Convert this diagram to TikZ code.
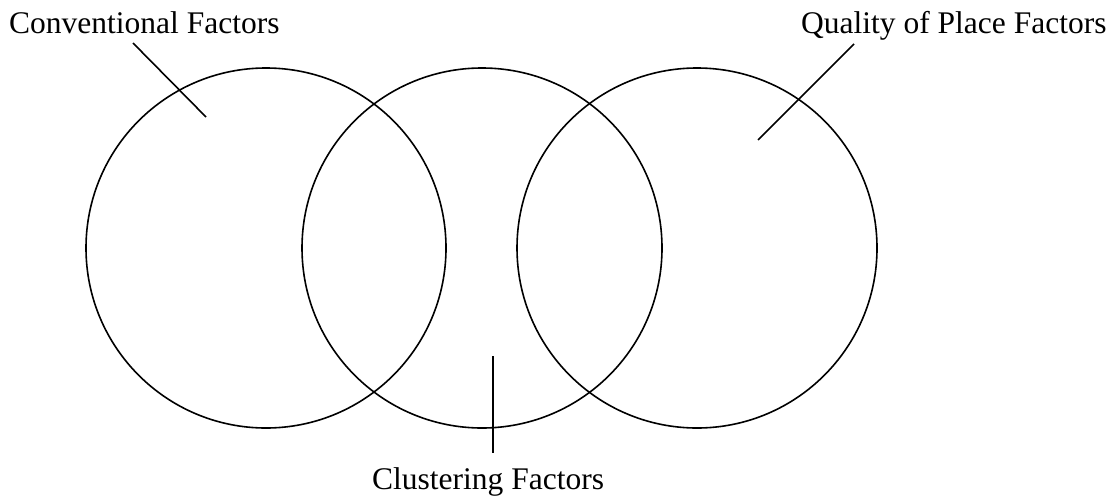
\documentclass[tikz,border=0pt]{standalone}
\usepackage{fontspec}
\setmainfont{Liberation Serif}
\begin{document}
\begin{tikzpicture}[x=1pt,y=-1pt,
  ring/.style={draw,circle,line width=1.6pt,minimum size=360pt,inner sep=0pt},
  lbl/.style={font=\fontsize{31.5}{36}\selectfont,inner sep=0pt,anchor=base west},
  pointer/.style={line width=1.6pt}]
\useasboundingbox (0,0) rectangle (1118,498);
\node[ring] (left) at (266,248) {};
\node[ring] (mid) at (482,248) {};
\node[ring] (right) at (697,248) {};
\node[lbl] (conv) at (9,33) {Conventional Factors};
\node[lbl] (qual) at (801,33) {Quality of Place Factors};
\node[lbl] (clus) at (372,489) {Clustering Factors};
\coordinate (c1) at (133,43);
\coordinate (c2) at (206,117);
\coordinate (q1) at (854,44);
\coordinate (q2) at (758,140);
\coordinate (k1) at (493,356);
\coordinate (k2) at (493,453);
\draw[pointer] (c1) -- (c2);
\draw[pointer] (q1) -- (q2);
\draw[pointer] (k1) -- (k2);
\end{tikzpicture}
\end{document}
